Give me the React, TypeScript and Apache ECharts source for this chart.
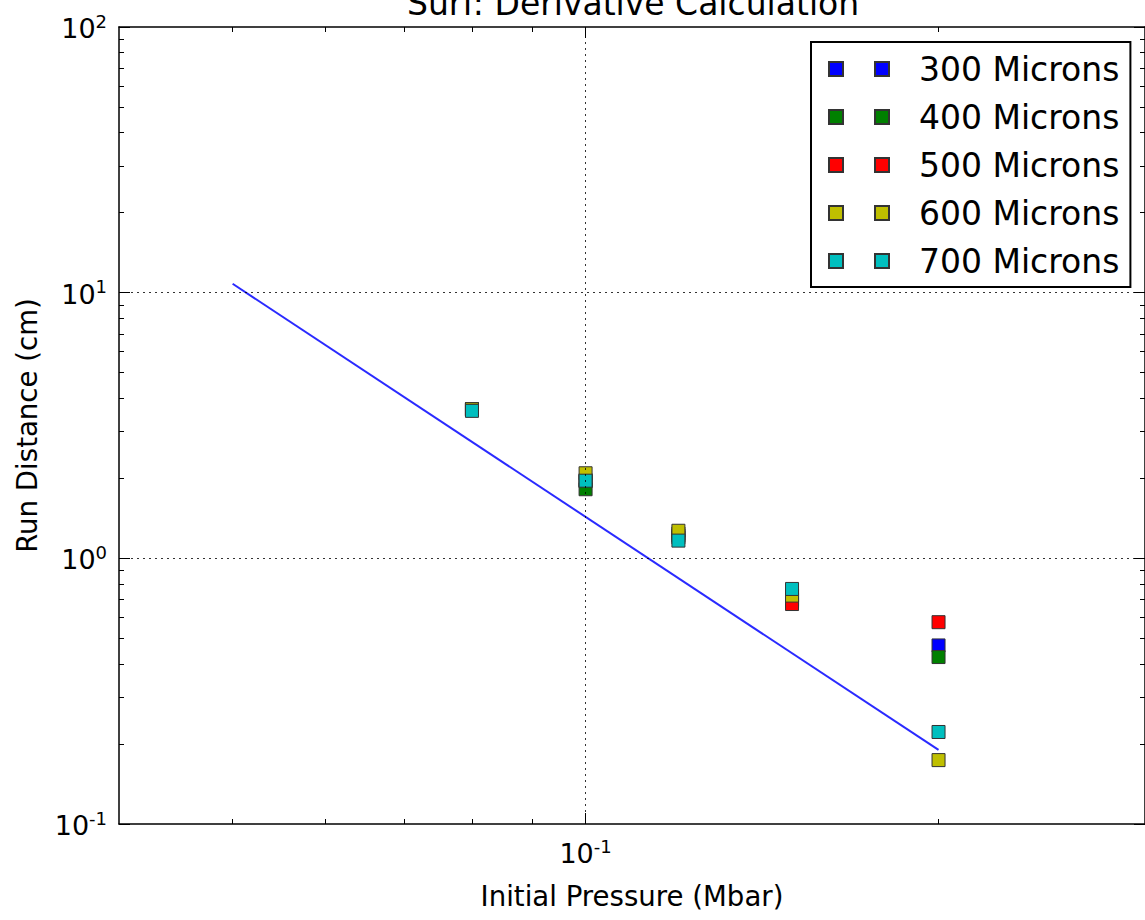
import React, { useEffect, useRef } from 'react';
import * as echarts from 'echarts';

// ---- data ----
const pressures = [0.08, 0.1, 0.12, 0.15, 0.2];
const microns300 = [3.64, 1.95, 1.2, 0.7, 0.47];
const microns400 = [3.64, 1.82, 1.22, 0.69, 0.425];
const microns500 = [3.64, 1.97, 1.24, 0.673, 0.575];
const microns600 = [3.64, 2.09, 1.27, 0.724, 0.174];
const microns700 = [3.59, 1.96, 1.166, 0.767, 0.222];
const fitX = [0.05, 0.2];
const fitY = [10.8, 0.19];

const seriesNames = ['300 Microns', '400 Microns', '500 Microns', '600 Microns', '700 Microns'];
const seriesValues = [microns300, microns400, microns500, microns600, microns700];
const seriesColors = ['#0000ff', '#008000', '#ff0000', '#bfbf00', '#00bfbf'];

const xMajorTicks = [0.1];
const xMinorTicks = [0.05, 0.06, 0.07, 0.08, 0.09, 0.2];
const yMajorTicks = [0.1, 1, 10, 100];
const yMinorTicks = [0.2, 0.3, 0.4, 0.5, 0.6, 0.7, 0.8, 0.9, 2, 3, 4, 5, 6, 7, 8, 9, 20, 30, 40, 50, 60, 70, 80, 90];
const xGridValues = [0.1];
const yGridValues = [1, 10];

const FONT = 'DejaVu Sans';

const expFormatter = (v: number) => `{b|10}{s|${Math.round(Math.log10(v))}}`;
const expRich = {
  b: { fontFamily: FONT, fontSize: 27, color: '#000', lineHeight: 30, verticalAlign: 'bottom' },
  s: { fontFamily: FONT, fontSize: 18, color: '#000', lineHeight: 18, verticalAlign: 'top', padding: [0, 0, 18, 0] },
};

const axisLineStyle = { color: '#000', width: 1.5 };
const tickLineStyle = { color: '#000', width: 1 };

function makeX(position: string, major: boolean, withLabel: boolean) {
  return {
    type: 'log',
    logBase: 10,
    min: 0.04,
    max: 0.3,
    position,
    splitLine: { show: false },
    axisLine: { show: major, onZero: false, lineStyle: axisLineStyle },
    axisTick: { show: true, inside: true, length: major ? 11 : 5, customValues: major ? xMajorTicks : xMinorTicks, lineStyle: tickLineStyle },
    axisLabel: withLabel
      ? { show: true, customValues: xMajorTicks, formatter: expFormatter, rich: expRich, margin: 13 }
      : { show: false },
    ...(withLabel
      ? {
          name: 'Initial Pressure (Mbar)',
          nameLocation: 'middle',
          nameGap: 58,
          nameTextStyle: { fontFamily: FONT, fontSize: 27.6, color: '#000' },
        }
      : {}),
  };
}

function makeY(position: string, major: boolean, withLabel: boolean) {
  return {
    type: 'log',
    logBase: 10,
    min: 0.1,
    max: 100,
    position,
    splitLine: { show: false },
    axisLine: { show: major, onZero: false, lineStyle: axisLineStyle },
    axisTick: { show: true, inside: true, length: major ? 11 : 5, customValues: major ? yMajorTicks : yMinorTicks, lineStyle: tickLineStyle },
    axisLabel: withLabel
      ? { show: true, customValues: yMajorTicks, formatter: expFormatter, rich: expRich, margin: 12 }
      : { show: false },
    ...(withLabel
      ? {
          name: 'Run Distance (cm)',
          nameLocation: 'middle',
          nameGap: 78,
          nameTextStyle: { fontFamily: FONT, fontSize: 27.6, color: '#000' },
        }
      : {}),
  };
}

export default function App() {
  const ref = useRef<HTMLDivElement>(null);

  useEffect(() => {
    if (!ref.current) return;
    const chart = echarts.init(ref.current, undefined, { renderer: 'svg' });

    const scatterSeries = seriesNames.map((name, i) => ({
      name,
      type: 'scatter',
      xAxisIndex: 0,
      yAxisIndex: 0,
      symbol: 'rect',
      symbolSize: 13,
      z: 3,
      itemStyle: { color: seriesColors[i], borderColor: '#333', borderWidth: 1, opacity: 1 },
      data: pressures.map((x, j) => [x, seriesValues[i][j]]),
    }));

    const option: any = {
      animation: false,
      backgroundColor: '#fff',
      textStyle: { fontFamily: FONT },
      title: {
        text: 'Surf: Derivative Calculation',
        left: 407,
        top: -13,
        padding: 0,
        textStyle: { fontFamily: FONT, fontSize: 33, fontWeight: 'normal', color: '#000' },
      },
      grid: { left: 119, top: 27, width: 1028, height: 797, containLabel: false },
      xAxis: [makeX('bottom', true, true), makeX('bottom', false, false), makeX('top', true, false), makeX('top', false, false)],
      yAxis: [makeY('left', true, true), makeY('left', false, false), makeY('right', true, false), makeY('right', false, false)],
      legend: {
        data: seriesNames,
        orient: 'vertical',
        left: 811,
        top: 42,
        padding: [10, 11, 9, 17],
        itemGap: 14,
        itemWidth: 60,
        itemHeight: 14,
        icon: 'path://M0,0h14v14h-14z M46,0h14v14h-14z',
        backgroundColor: '#fff',
        borderColor: '#000',
        borderWidth: 2,
        selectedMode: false,
        textStyle: { fontFamily: FONT, fontSize: 33, color: '#000', lineHeight: 34, padding: [0, 0, 0, 25] },
      },
      series: [
        {
          name: 'fit',
          type: 'line',
          xAxisIndex: 0,
          yAxisIndex: 0,
          data: fitX.map((x, i) => [x, fitY[i]]),
          showSymbol: false,
          symbol: 'none',
          silent: true,
          z: 2,
          lineStyle: { color: '#2a2aff', width: 2 },
        },
        ...scatterSeries,
        {
          name: 'grid',
          type: 'line',
          xAxisIndex: 0,
          yAxisIndex: 0,
          data: [],
          silent: true,
          z: 4,
          markLine: {
            silent: true,
            symbol: ['none', 'none'],
            label: { show: false },
            animation: false,
            lineStyle: { color: '#000', type: [2, 4], width: 1, opacity: 0.8 },
            data: [
              ...xGridValues.map((v) => ({ xAxis: v })),
              ...yGridValues.map((v) => ({ yAxis: v })),
            ],
          },
        },
      ],
    };

    chart.setOption(option);
    return () => chart.dispose();
  }, []);

  return <div ref={ref} style={{ position: 'absolute', left: 0, top: 0, width: 1145, height: 920 }} />;
}
